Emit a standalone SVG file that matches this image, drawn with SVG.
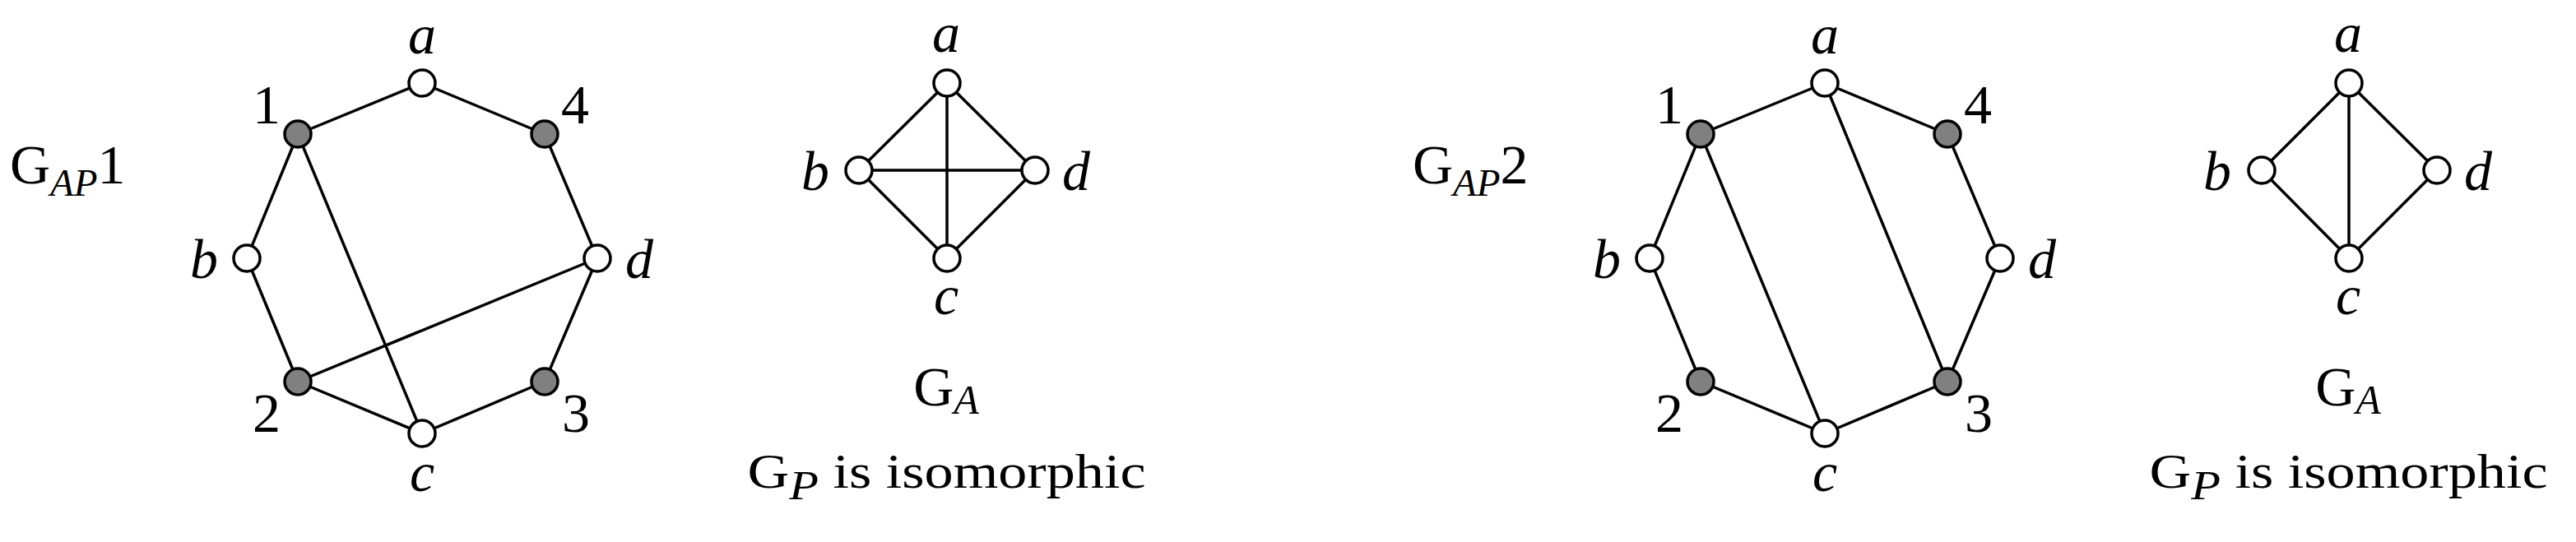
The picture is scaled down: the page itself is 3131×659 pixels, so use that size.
<svg xmlns="http://www.w3.org/2000/svg" width="3131" height="659" viewBox="0 0 3131 659">
<style>
.e{stroke:#000;stroke-width:3.5;fill:none;stroke-linecap:round}
.w{fill:#fff;stroke:#000;stroke-width:3.5}
.g{fill:#808080;stroke:#000;stroke-width:3.5}
text{font-family:"Liberation Serif","Times New Roman",serif;fill:#000}
.it{font-style:italic;font-size:68px;text-anchor:middle}
.num{font-size:68px;text-anchor:middle}
.big{font-size:68px}
.ga{font-size:68px;text-anchor:middle}
.cap{font-size:60px;text-anchor:middle}
</style>
<rect width="3131" height="659" fill="#fff"/>
<g id="connectors">
<!-- GAP1 -->
<line class="e" x1="362" y1="163" x2="513" y2="101"/>
<line class="e" x1="513" y1="101" x2="662" y2="163"/>
<line class="e" x1="662" y1="163" x2="726" y2="314"/>
<line class="e" x1="726" y1="314" x2="662" y2="464"/>
<line class="e" x1="662" y1="464" x2="513" y2="527"/>
<line class="e" x1="513" y1="527" x2="362" y2="464"/>
<line class="e" x1="362" y1="464" x2="300" y2="314"/>
<line class="e" x1="300" y1="314" x2="362" y2="163"/>
<line class="e" x1="362" y1="163" x2="513" y2="527"/>
<line class="e" x1="362" y1="464" x2="726" y2="314"/>
<!-- GA1 -->
<line class="e" x1="1151" y1="101" x2="1044" y2="207"/>
<line class="e" x1="1151" y1="101" x2="1258" y2="207"/>
<line class="e" x1="1151" y1="101" x2="1151" y2="314"/>
<line class="e" x1="1044" y1="207" x2="1258" y2="207"/>
<line class="e" x1="1044" y1="207" x2="1151" y2="314"/>
<line class="e" x1="1258" y1="207" x2="1151" y2="314"/>
<!-- GAP2 -->
<line class="e" x1="2067" y1="163" x2="2218" y2="101"/>
<line class="e" x1="2218" y1="101" x2="2367" y2="163"/>
<line class="e" x1="2367" y1="163" x2="2431" y2="314"/>
<line class="e" x1="2431" y1="314" x2="2367" y2="464"/>
<line class="e" x1="2367" y1="464" x2="2218" y2="527"/>
<line class="e" x1="2218" y1="527" x2="2067" y2="464"/>
<line class="e" x1="2067" y1="464" x2="2005" y2="314"/>
<line class="e" x1="2005" y1="314" x2="2067" y2="163"/>
<line class="e" x1="2067" y1="163" x2="2218" y2="527"/>
<line class="e" x1="2218" y1="101" x2="2367" y2="464"/>
<!-- GA2 -->
<line class="e" x1="2855" y1="101" x2="2749" y2="207"/>
<line class="e" x1="2855" y1="101" x2="2962" y2="207"/>
<line class="e" x1="2855" y1="101" x2="2855" y2="314"/>
<line class="e" x1="2749" y1="207" x2="2855" y2="314"/>
<line class="e" x1="2962" y1="207" x2="2855" y2="314"/>
</g>
<!-- GAP1 nodes -->
<g id="gap1-a"><circle class="w" cx="513" cy="101" r="16"/><text class="it" x="513" y="65">a</text></g>
<g id="gap1-1"><circle class="g" cx="362" cy="163" r="16"/><text class="num" x="324" y="150">1</text></g>
<g id="gap1-4"><circle class="g" cx="662" cy="163" r="16"/><text class="num" x="699" y="150">4</text></g>
<g id="gap1-b"><circle class="w" cx="300" cy="314" r="16"/><text class="it" x="248" y="338">b</text></g>
<g id="gap1-d"><circle class="w" cx="726" cy="314" r="16"/><text class="it" x="777" y="338">d</text></g>
<g id="gap1-2"><circle class="g" cx="362" cy="464" r="16"/><text class="num" x="324" y="525">2</text></g>
<g id="gap1-3"><circle class="g" cx="662" cy="464" r="16"/><text class="num" x="700" y="525">3</text></g>
<g id="gap1-c"><circle class="w" cx="513" cy="527" r="16"/><text class="it" x="513" y="597">c</text></g>
<g id="gap1-title"><text class="big" x="12" y="223">G<tspan font-style="italic" font-size="47" dy="15">AP</tspan><tspan dy="-15">1</tspan></text></g>
<!-- GA1 nodes -->
<g id="ga1-a"><circle class="w" cx="1151" cy="101" r="16"/><text class="it" x="1150" y="63">a</text></g>
<g id="ga1-b"><circle class="w" cx="1044" cy="207" r="16"/><text class="it" x="991" y="231">b</text></g>
<g id="ga1-d"><circle class="w" cx="1258" cy="207" r="16"/><text class="it" x="1308" y="231">d</text></g>
<g id="ga1-c"><circle class="w" cx="1151" cy="314" r="16"/><text class="it" x="1150" y="382">c</text></g>
<g id="ga1-title"><text class="ga" x="1150" y="493">G<tspan font-style="italic" font-size="50" dy="10">A</tspan></text></g>
<g id="ga1-caption"><text class="cap" transform="translate(1150.5,593) scale(1.17,1)" x="0" y="0">G<tspan font-style="italic" font-size="50" dy="14">P</tspan><tspan dy="-14"> is isomorphic</tspan></text></g>
<!-- GAP2 nodes -->
<g id="gap2-a"><circle class="w" cx="2218" cy="101" r="16"/><text class="it" x="2218" y="65">a</text></g>
<g id="gap2-1"><circle class="g" cx="2067" cy="163" r="16"/><text class="num" x="2029" y="150">1</text></g>
<g id="gap2-4"><circle class="g" cx="2367" cy="163" r="16"/><text class="num" x="2404" y="150">4</text></g>
<g id="gap2-b"><circle class="w" cx="2005" cy="314" r="16"/><text class="it" x="1953" y="338">b</text></g>
<g id="gap2-d"><circle class="w" cx="2431" cy="314" r="16"/><text class="it" x="2482" y="338">d</text></g>
<g id="gap2-2"><circle class="g" cx="2067" cy="464" r="16"/><text class="num" x="2029" y="525">2</text></g>
<g id="gap2-3"><circle class="g" cx="2367" cy="464" r="16"/><text class="num" x="2405" y="525">3</text></g>
<g id="gap2-c"><circle class="w" cx="2218" cy="527" r="16"/><text class="it" x="2218" y="597">c</text></g>
<g id="gap2-title"><text class="big" x="1717" y="223">G<tspan font-style="italic" font-size="47" dy="15">AP</tspan><tspan dy="-15">2</tspan></text></g>
<!-- GA2 nodes -->
<g id="ga2-a"><circle class="w" cx="2855" cy="101" r="16"/><text class="it" x="2854" y="63">a</text></g>
<g id="ga2-b"><circle class="w" cx="2749" cy="207" r="16"/><text class="it" x="2695" y="231">b</text></g>
<g id="ga2-d"><circle class="w" cx="2962" cy="207" r="16"/><text class="it" x="3012" y="231">d</text></g>
<g id="ga2-c"><circle class="w" cx="2855" cy="314" r="16"/><text class="it" x="2854" y="382">c</text></g>
<g id="ga2-title"><text class="ga" x="2854" y="493">G<tspan font-style="italic" font-size="50" dy="10">A</tspan></text></g>
<g id="ga2-caption"><text class="cap" transform="translate(2854.5,593) scale(1.17,1)" x="0" y="0">G<tspan font-style="italic" font-size="50" dy="14">P</tspan><tspan dy="-14"> is isomorphic</tspan></text></g>
</svg>
